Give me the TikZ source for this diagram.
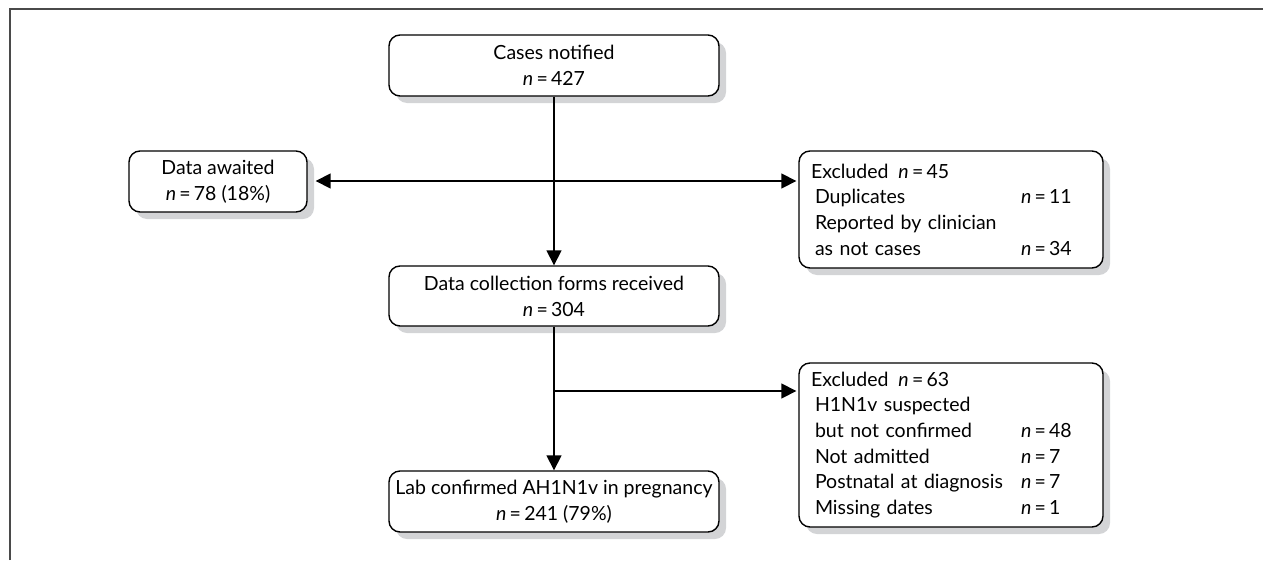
\documentclass[tikz,border=0pt]{standalone}
\usepackage{fontspec}
\setmainfont{Lato}
\usetikzlibrary{arrows.meta,shadows}
\definecolor{framegray}{HTML}{4A4A4A}
\definecolor{shadowgray}{HTML}{D3D4D6}
\newcommand{\nv}{\textit{n}\,=\,}
% one indented row of an exclusion list: reason, then its count
\newcommand{\exrow}[2]{\hspace*{4pt}\makebox[206pt][l]{#1}#2}
\begin{document}
\begin{tikzpicture}[x=1pt,y=-1pt,
  box/.style={draw=black, line width=1.4pt, rounded corners=11pt, fill=white,
    drop shadow={shadow xshift=7pt, shadow yshift=-7pt, fill=shadowgray, opacity=1},
    font=\fontsize{19.5}{26}\selectfont, align=center, inner sep=0pt},
  listbox/.style={box, align=left, text width=280pt, inner xsep=12pt,
    font=\fontsize{19.5}{25.7}\selectfont},
  conn/.style={line width=1.6pt, draw=black},
  arr/.style={conn, -{Triangle[length=15pt,width=15pt]}}]
  \useasboundingbox (0,0) rectangle (1263,560);
  % open frame along the top and left edges
  \draw[framegray, line width=2.6pt] (10,560) -- (10,9) -- (1263,9);

  \node[box, minimum width=330pt, minimum height=61pt] (cases) at (554,65.5)
    {Cases notified\\ \nv 427};
  \node[box, minimum width=178pt, minimum height=61pt] (awaited) at (218,181.5)
    {Data awaited\\ \nv 78 (18\%)};
  \node[listbox, minimum height=117pt] (excl1) at (951,209.5)
    {Excluded\hspace{10pt}\nv 45\\
     \exrow{Duplicates}{\nv 11}\\
     \exrow{Reported by clinician}{}\\
     \exrow{as not cases}{\nv 34}};
  \node[box, minimum width=330pt, minimum height=60pt] (forms) at (554,296)
    {Data collection forms received\\ \nv 304};
  \node[listbox, minimum height=164pt] (excl2) at (951,445)
    {Excluded\hspace{10pt}\nv 63\\
     \exrow{H1N1v suspected}{}\\
     \exrow{but not confirmed}{\nv 48}\\
     \exrow{Not admitted}{\nv 7}\\
     \exrow{Postnatal at diagnosis}{\nv 7}\\
     \exrow{Missing dates}{\nv 1}};
  \node[box, minimum width=330pt, minimum height=61pt] (lab) at (554,501.5)
    {Lab confirmed AH1N1v in pregnancy\\ \nv 241 (79\%)};

  \coordinate (split1) at (554,181);
  \coordinate (split2) at (554,391);

  \draw[arr] (cases.south) -- (forms.north);
  \draw[arr, shorten >=8pt] (split1) -- (awaited.east |- split1);
  \draw[arr, shorten >=2pt] (split1) -- (excl1.west |- split1);
  \draw[arr] (forms.south) -- (lab.north);
  \draw[arr, shorten >=2pt] (split2) -- (excl2.west |- split2);
\end{tikzpicture}
\end{document}
